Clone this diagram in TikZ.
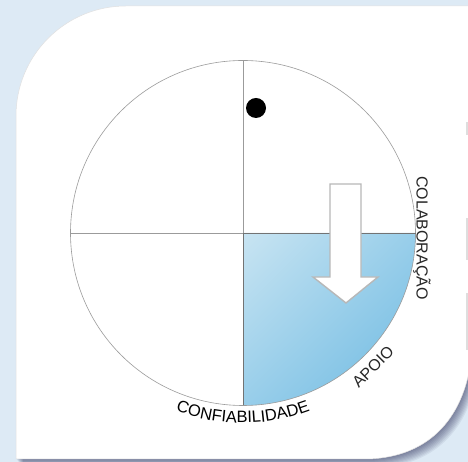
\documentclass[tikz,border=0pt]{standalone}
\usepackage{fontspec}
\newfontfamily\labelfont{Liberation Sans}
\usetikzlibrary{decorations.text,shadings}

\definecolor{pagebg}{RGB}{221,234,245}
\definecolor{quadlight}{RGB}{200,228,242}
\definecolor{quadmid}{RGB}{152,206,234}
\definecolor{quaddark}{RGB}{108,185,225}
\definecolor{rimgray}{RGB}{155,155,155}

\tikzset{
  rim/.style={draw=rimgray, line width=0.6pt},
  quadlabel/.style={font=\labelfont\fontsize{16}{16}\selectfont, text=black!85, inner sep=0pt},
  downarrow/.style={fill=white, draw=black!28, line width=1.4pt, line join=miter},
}

% outline of the white sheet
\def\cardpath{(16,3) -- (16,346) arc (180:90:110) -- (472,456) -- (472,110) .. controls (466,45) and (430,5) .. (368,3) -- cycle}

\begin{document}
\begin{tikzpicture}[x=1pt,y=1pt]

% positions
\def\cx{243}
\def\cy{229}
\def\r{172.5}

\useasboundingbox (0,0) rectangle (468,462);
\clip (0,0) rectangle (468,462);

% background and sheet
\fill[pagebg] (0,0) rectangle (468,462);
\foreach \i in {1,...,9}
  \fill[black!80!blue, opacity=0.06, shift={(0.8*\i,-1.0*\i)}] \cardpath;
\fill[white, draw=black!12, line width=0.5pt] \cardpath;

% faint marks at the right edge
\foreach \ya/\yb in {327/340, 202/244, 112/169}
  \fill[black!13] (465.5,\ya) rectangle (468,\yb);

\coordinate (O) at (\cx,\cy);

% shaded quadrant
\shade[upper left=quadlight, upper right=quadmid, lower left=quadmid, lower right=quaddark]
  (O) -- ++(\r,0) arc (0:-90:\r) -- cycle;

% circle and axes
\draw[rim] (O) circle (\r);
\draw[rim] (O) ++(-\r,0) -- ++({2*\r},0);
\draw[rim] (O) ++(0,\r) -- ++(0,{-2*\r});
\draw[black!55, line width=0.6pt] (O) ++(\r,0) -- (O) -- ++(0,-\r);

% marker
\node[circle, fill=black, inner sep=0pt, minimum size=20pt] (dot) at (256,354) {};

% arrow
\draw[downarrow] (330,278) -- (361,278) -- (361,185) -- (378,185) -- (346,159)
  -- (313,185) -- (330,185) -- cycle;

% labels
\node[quadlabel, rotate=-90] (colab) at (422,224) {COLABORAÇÃO};
\node[quadlabel, rotate=45] (apoio) at (373,95) {APOIO};
\path[decorate, decoration={text along path, text align=center,
    text={|\labelfont\fontsize{16.5}{16.5}\selectfont|CONFIABILIDADE}}]
  (O) ++(230:190) arc (230:310:190);

\end{tikzpicture}
\end{document}
